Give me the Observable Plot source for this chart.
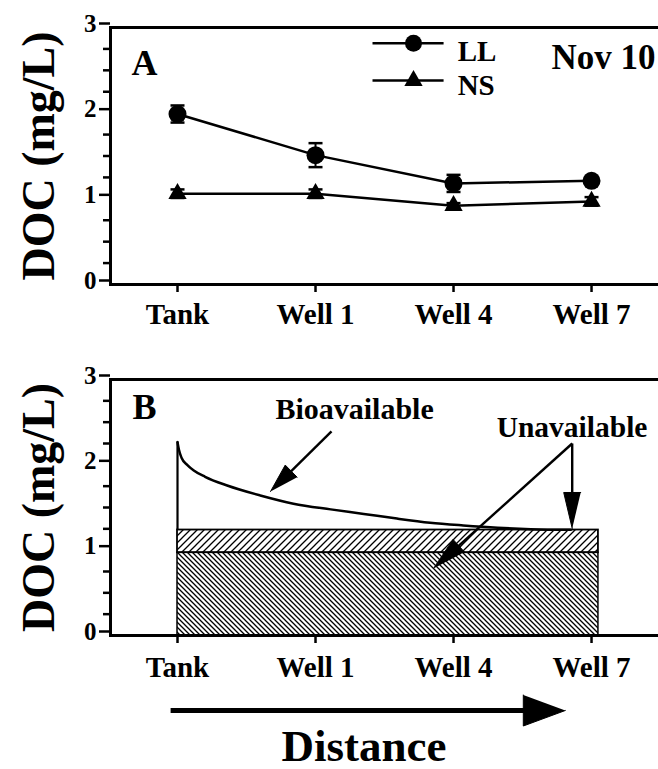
<!DOCTYPE html>
<html><head><meta charset="utf-8">
<script src="https://cdn.jsdelivr.net/npm/d3@7"></script>
<script src="https://cdn.jsdelivr.net/npm/@observablehq/plot@0.6"></script>
<style>
body{margin:0;background:#fff;}
#chart{width:658px;}
#chart svg{display:block;overflow:visible;}
#chart svg, #chart svg text{font-family:"Liberation Serif","Times New Roman",serif !important;font-weight:bold !important;}
</style></head><body>
<svg width="0" height="0" style="position:absolute">
<defs>
<pattern id="hatchUp" patternUnits="userSpaceOnUse" width="7" height="7">
<path d="M-1,1 L1,-1 M0,7 L7,0 M6,8 L8,6" stroke="#000" stroke-width="1.3"/>
</pattern>
<pattern id="hatchDown" patternUnits="userSpaceOnUse" width="5" height="5">
<path d="M-1,4 L1,6 M0,0 L5,5 M4,-1 L6,1" stroke="#000" stroke-width="1.3"/>
</pattern>
</defs></svg>
<div id="chart"></div>
<script>
// ---------- data ----------
const sites = ["Tank", "Well 1", "Well 4", "Well 7"];
const siteIndex = [0, 1, 2, 3];
const llMean = [1.99, 1.51, 1.18, 1.21];
const llErr  = [0.10, 0.14, 0.10, 0.03];
const nsMean = [1.06, 1.06, 0.92, 0.97];
const nsErr  = [0.05, 0.05, 0.03, 0.05];
const yTicks = [0, 1, 2, 3];
const yMinor = [0.25, 0.5, 0.75, 1.25, 1.5, 1.75, 2.25, 2.5, 2.75];

// panel B conceptual model
const curveX = [0, 0.01, 0.03, 0.07, 0.118, 0.2, 0.36, 0.6, 0.84, 1.11, 1.35, 1.59, 1.83, 2.07, 2.32, 2.56, 2.85];
const curveY = [2.266, 2.18, 2.08, 2.0, 1.934, 1.86, 1.758, 1.641, 1.545, 1.478, 1.425, 1.37, 1.322, 1.29, 1.263, 1.246, 1.238];
const bandNames = ["Unavailable (recalcitrant)", "Unavailable"];
const bandLow  = [0, 0.97];
const bandHigh = [0.97, 1.236];
const bandEnd = 3.05;

// ---------- layout ----------
const W = 658, ML = 110, MR = -3;
const xDomain = [-0.4855, 3.507];
const kx = (W - ML - MR) / (xDomain[1] - xDomain[0]);
const HA = 335, MTA = 27, MBA = 51;
const HB = 434, MTB = 44, MBB = 134;
const kyA = (HA - MTA - MBA) / 3;
const kyB = (HB - MTB - MBB) / 3;
const font = "'Liberation Serif','Times New Roman',serif";

// annotation anchors (data units)
const legendPos = {x1: 1.413, x2: 1.928, xm: 1.71, xt: 2.03, yLine: [2.817, 2.38], yText: [2.72, 2.323]};
const bioLabel = {x: 1.283, y: 2.54};
const unLabel = {x: 2.859, y: 2.324};
const arrowsB = [
  {id: "bio", from: [1.116, 2.391], tip: [0.674, 1.688], len: 29, wid: 17, w: 2.4},
  {id: "un1", from: [2.860, 2.250], tip: [2.860, 1.254], len: 36, wid: 17, w: 2.4},
  {id: "un2", from: [2.860, 2.250], tip: [1.855, 0.785], len: 34, wid: 17, w: 2.4},
  {id: "dist", from: [-0.05, -0.879], tip: [2.81, -0.879], len: 42, wid: 31, w: 5}
];

function headGeom(a, ky) {
  const sx = (a.tip[0] - a.from[0]) * kx, sy = -(a.tip[1] - a.from[1]) * ky;
  const n = Math.hypot(sx, sy), ux = sx / n, uy = sy / n;
  const bx = -ux * a.len, by = -uy * a.len;
  const px = -uy * a.wid / 2, py = ux * a.wid / 2;
  const toData = (ox, oy) => [a.tip[0] + ox / kx, a.tip[1] - oy / ky];
  const pts = [toData(0, 0), toData(bx + px, by + py), toData(bx - px, by - py)]
    .map(([x, y]) => ({id: a.id, x, y}));
  const shaftEnd = toData(bx * 0.5, by * 0.5);
  return {pts, shaft: {id: a.id, x1: a.from[0], y1: a.from[1], x2: shaftEnd[0], y2: shaftEnd[1], w: a.w}};
}
const geoms = arrowsB.map(a => headGeom(a, kyB));
const headPts = geoms.flatMap(g => g.pts);
const shafts = geoms.map(g => g.shaft);

const capSymbol = {draw(ctx) { ctx.moveTo(-7, 0); ctx.lineTo(7, 0); }};

const rowsLL = siteIndex.map(i => ({x: i, y: llMean[i], e: llErr[i]}));
const rowsNS = siteIndex.map(i => ({x: i, y: nsMean[i], e: nsErr[i]}));

function axes(padX) {
  return [
    Plot.frame({strokeWidth: 3}),
    Plot.axisY({ticks: yTicks, tickSize: 11, tickPadding: 3, strokeWidth: 2.5, fontSize: 25, dy: -4, tickFormat: d => String(d), label: null}),
    Plot.axisY({ticks: yMinor, tickSize: 7, strokeWidth: 2.5, tickFormat: () => "", label: null}),
    Plot.axisX({ticks: siteIndex, tickFormat: i => sites[i], tickSize: 8, tickPadding: padX, strokeWidth: 2.5, fontSize: 29, label: null}),
    Plot.text(["DOC (mg/L)"], {text: d => d, frameAnchor: "left", rotate: -90, textAnchor: "middle", lineAnchor: "bottom", dx: -57, fontSize: 46})
  ];
}

const style = {fontFamily: font, fontWeight: "bold", color: "black", background: "white", overflow: "visible"};

const plotA = Plot.plot({
  width: W, height: HA, marginLeft: ML, marginRight: MR, marginTop: MTA, marginBottom: MBA,
  style,
  x: {domain: xDomain},
  y: {domain: [0, 3]},
  marks: [
    ...axes(11),
    Plot.ruleX(rowsLL, {x: "x", y1: d => d.y - d.e, y2: d => d.y + d.e, strokeWidth: 2}),
    Plot.dot(rowsLL, {x: "x", y: d => d.y + d.e, symbol: capSymbol, stroke: "black", strokeWidth: 2.5, r: 5}),
    Plot.dot(rowsLL, {x: "x", y: d => d.y - d.e, symbol: capSymbol, stroke: "black", strokeWidth: 2.5, r: 5}),
    Plot.ruleX(rowsNS, {x: "x", y1: d => d.y - d.e, y2: d => d.y + d.e, strokeWidth: 2}),
    Plot.dot(rowsNS, {x: "x", y: d => d.y + d.e, symbol: capSymbol, stroke: "black", strokeWidth: 2.5, r: 5}),
    Plot.dot(rowsNS, {x: "x", y: d => d.y - d.e, symbol: capSymbol, stroke: "black", strokeWidth: 2.5, r: 5}),
    Plot.line(rowsLL, {x: "x", y: "y", strokeWidth: 2.5}),
    Plot.line(rowsNS, {x: "x", y: "y", strokeWidth: 2.5}),
    Plot.dot(rowsLL, {x: "x", y: "y", symbol: "circle", fill: "black", r: 9}),
    Plot.dot(rowsNS, {x: "x", y: "y", symbol: "triangle", fill: "black", r: 6.8}),
    // legend
    Plot.link(["LL", "NS"], {x1: legendPos.x1, x2: legendPos.x2, y1: (d, i) => legendPos.yLine[i], y2: (d, i) => legendPos.yLine[i], strokeWidth: 2.5}),
    Plot.dot(["LL"], {x: legendPos.xm, y: legendPos.yLine[0], symbol: "circle", fill: "black", r: 8.5}),
    Plot.dot(["NS"], {x: legendPos.xm, y: legendPos.yLine[1], symbol: "triangle", fill: "black", r: 6.8}),
    Plot.text(["LL", "NS"], {text: d => d, x: legendPos.xt, y: (d, i) => legendPos.yText[i], textAnchor: "start", fontSize: 29}),
    Plot.text(["A"], {text: d => d, frameAnchor: "top-left", textAnchor: "start", lineAnchor: "bottom", dx: 21, dy: 47, fontSize: 36}),
    Plot.text(["Nov 10"], {text: d => d, frameAnchor: "top-right", textAnchor: "end", lineAnchor: "bottom", dx: -6, dy: 41, fontSize: 35})
  ]
});

const curve = curveX.map((x, i) => ({x, y: curveY[i]}));
const bands = bandNames.map((n, i) => ({name: n, y1: bandLow[i], y2: bandHigh[i]}));

const plotB = Plot.plot({
  width: W, height: HB, marginLeft: ML, marginRight: MR, marginTop: MTB, marginBottom: MBB,
  style,
  x: {domain: xDomain},
  y: {domain: [0, 3]},
  marks: [
    ...axes(13),
    Plot.rect(bands.slice(0, 1), {x1: 0, x2: bandEnd, y1: "y1", y2: "y2", fill: "url(#hatchDown)", stroke: "black", strokeWidth: 1.5}),
    Plot.rect(bands.slice(1, 2), {x1: 0, x2: bandEnd, y1: "y1", y2: "y2", fill: "url(#hatchUp)", stroke: "black", strokeWidth: 1.8}),
    Plot.ruleX([0], {x: d => d, y1: bandHigh[1], y2: curveY[0], strokeWidth: 2.2}),
    Plot.line(curve, {x: "x", y: "y", curve: "monotone-x", strokeWidth: 2.5}),
    Plot.link(shafts, {x1: "x1", y1: "y1", x2: "x2", y2: "y2", strokeWidth: "w"}),
    Plot.line(headPts, {x: "x", y: "y", z: "id", fill: "black", stroke: "black", strokeWidth: 1}),
    Plot.text(["Bioavailable"], {text: d => d, x: bioLabel.x, y: bioLabel.y, lineAnchor: "bottom", fontSize: 30}),
    Plot.text(["Unavailable"], {text: d => d, x: unLabel.x, y: unLabel.y, lineAnchor: "bottom", fontSize: 29.5}),
    Plot.text(["B"], {text: d => d, frameAnchor: "top-left", textAnchor: "start", lineAnchor: "bottom", dx: 22, dy: 39, fontSize: 36}),
    Plot.text(["Distance"], {text: d => d, frameAnchor: "bottom", textAnchor: "middle", lineAnchor: "bottom", dx: -22, dy: 125, fontSize: 45})
  ]
});

document.getElementById("chart").append(plotA, plotB);
</script>
</body></html>
